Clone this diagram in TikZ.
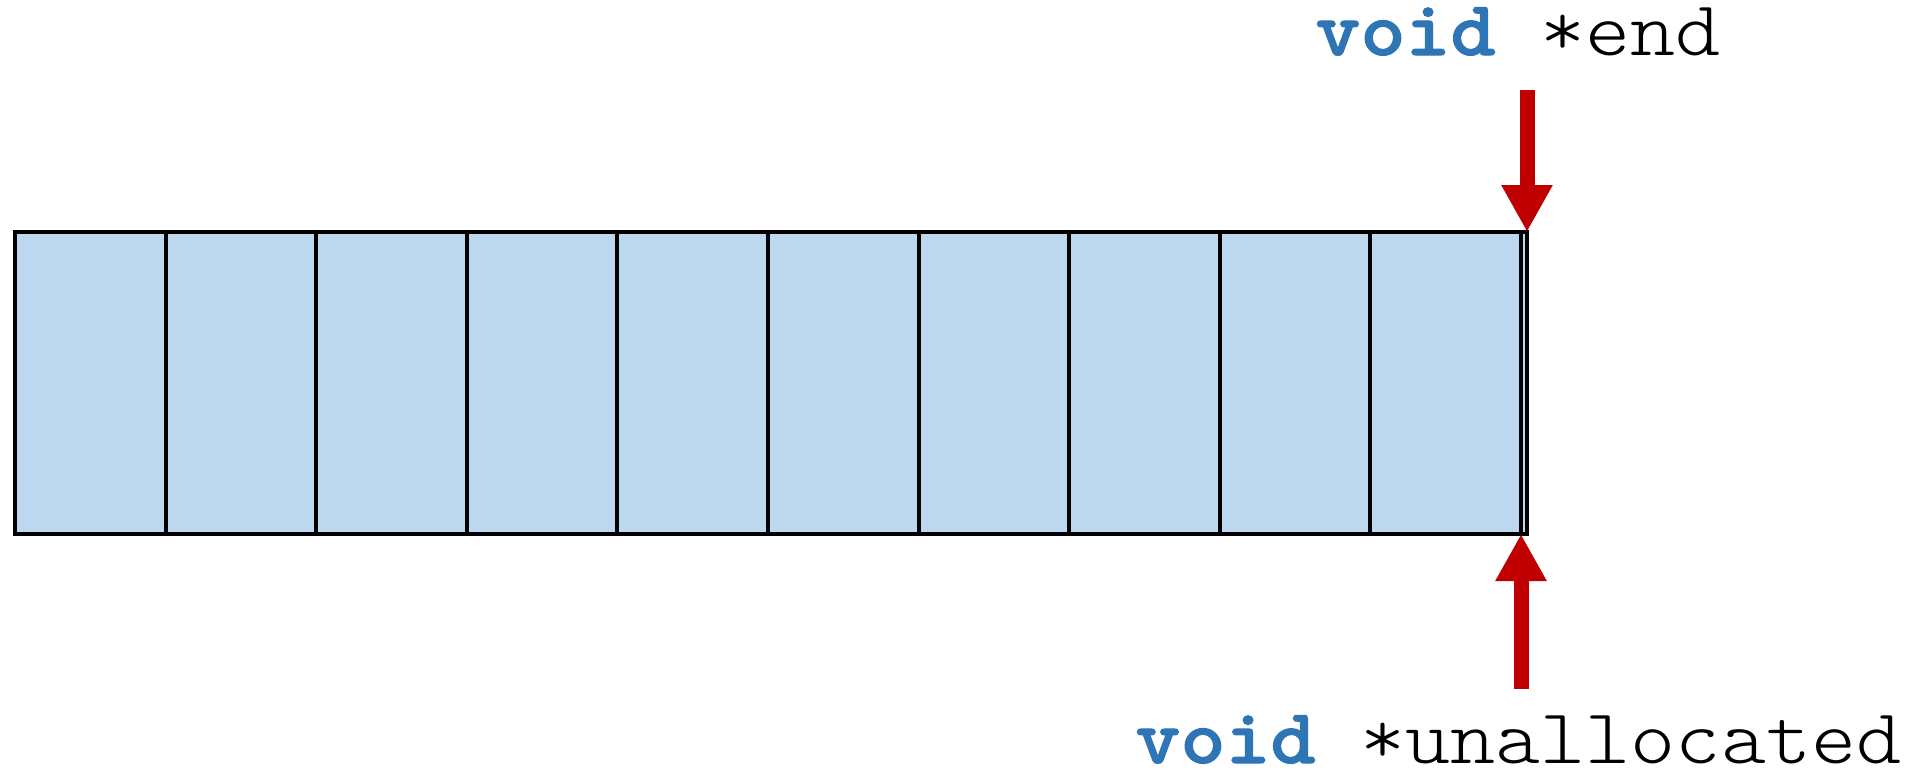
\documentclass[tikz,border=0pt]{standalone}
\usepackage{fontspec}
% typewriter faces for the code labels, widened to a Courier-like pitch
\newfontfamily\codefont{lmmonolt10-regular.otf}[FakeStretch=1.1]
\newfontfamily\kwfont{lmmonolt10-bold.otf}[FakeStretch=1.1,FakeBold=1.5]
\usetikzlibrary{arrows.meta}
\definecolor{cellfill}{RGB}{189,215,238}
\definecolor{kwblue}{RGB}{46,117,182}
\definecolor{ptrred}{RGB}{192,0,0}
\newcommand{\kw}[1]{{\kwfont\color{kwblue}#1}}
\begin{document}
\begin{tikzpicture}[x=0.5pt,y=-0.5pt,
  cell/.style={draw=black,line width=2pt,fill=cellfill,inner sep=0pt,outer sep=0pt,
    minimum width=75.3pt,minimum height=151pt},
  sliver/.style={draw=black,line width=2pt,fill=cellfill,inner sep=0pt,outer sep=0pt,
    minimum width=3pt,minimum height=151pt},
  code/.style={inner sep=0pt,anchor=base west,font=\codefont\fontsize{39}{39}\selectfont},
  ptr/.style={draw=ptrred,line width=7.5pt,
    -{Triangle[width=24pt,length=23.5pt]},fill=ptrred}]
  \useasboundingbox (0,0) rectangle (1931,771);
  % the ten cells of the buffer
  \foreach \i in {1,...,10} {
    \node[cell] (c\i) at ({15+150.6*(\i-0.5)},383) {};
  }
  \node[sliver] (tailcell) at (1524,383) {};
  % pointer labels
  \node[code] (endlbl) at (1315,55) {\kw{void} *end};
  \node[code] (unalloclbl) at (1135,763) {\kw{void} *unallocated};
  % pointer arrows
  \coordinate (endtail) at (1527,90);
  \coordinate (unalloctail) at (1521,689);
  \draw[ptr] (endtail) -- (tailcell.north east);
  \draw[ptr] (unalloctail) -- (c10.south east);
\end{tikzpicture}
\end{document}
